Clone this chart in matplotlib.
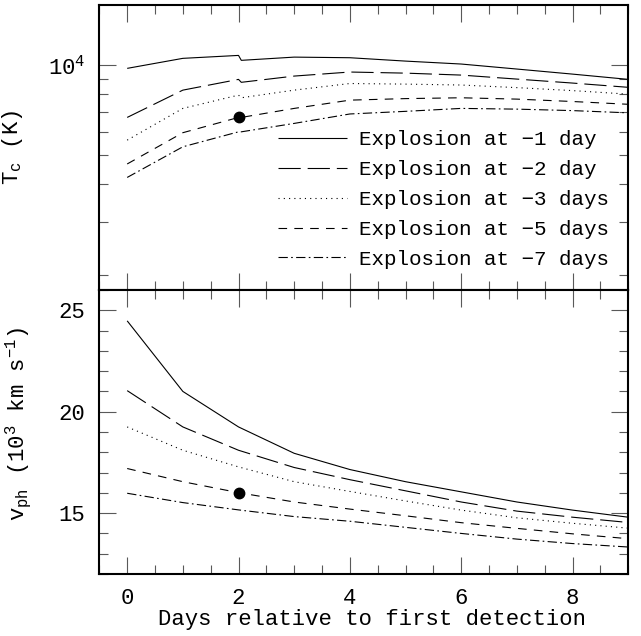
import matplotlib
matplotlib.use("Agg")
import matplotlib.pyplot as plt
from matplotlib.ticker import MultipleLocator, LogLocator, NullFormatter

# days relative to first detection (2.05 carries the step seen just after day 2)
days = [0, 1, 2, 2.05, 3, 4, 5, 6, 7, 8, 9]
days_v = [0, 1, 2, 3, 4, 5, 6, 7, 8, 9]

labels = ["Explosion at \u22121 day", "Explosion at \u22122 day",
          "Explosion at \u22123 days", "Explosion at \u22125 days",
          "Explosion at \u22127 days"]

# colour temperature (K)
tc_1 = [9750, 10530, 10770, 10370, 10630, 10580, 10310, 10080, 9700, 9330, 8960]
tc_2 = [6690, 8250, 8960, 8760, 9190, 9480, 9400, 9260, 8980, 8710, 8430]
tc_3 = [5620, 7170, 7940, 7780, 8250, 8680, 8640, 8580, 8410, 8220, 8000]
tc_5 = [4680, 5950, 6690, 6690, 7170, 7640, 7730, 7780, 7700, 7560, 7400]
tc_7 = [4220, 5340, 5990, 5990, 6390, 6870, 7010, 7170, 7130, 7050, 6930]

# photospheric velocity (10^3 km/s)
vph_1 = [24.48, 21.0, 19.25, 17.95, 17.15, 16.55, 16.05, 15.55, 15.15, 14.8]
vph_2 = [21.04, 19.25, 18.1, 17.25, 16.65, 16.1, 15.55, 15.1, 14.8, 14.54]
vph_3 = [19.25, 18.1, 17.28, 16.55, 16.07, 15.6, 15.15, 14.77, 14.5, 14.26]
vph_5 = [17.2, 16.55, 16.01, 15.55, 15.2, 14.87, 14.53, 14.25, 13.98, 13.74]
vph_7 = [15.98, 15.52, 15.16, 14.83, 14.6, 14.3, 14.0, 13.72, 13.5, 13.33]

obs_day = [2]
obs_tc = [6690]
obs_vph = [16.0]

plt.rcParams.update({'font.family': 'Liberation Mono', 'font.size': 16,
                     'mathtext.fontset': 'custom',
                     'mathtext.rm': 'Liberation Mono',
                     'mathtext.it': 'Liberation Mono:italic',
                     'lines.scale_dashes': False})

styles = [(0, ()), (0, (16, 5)), (0, (0.8, 3)), (0, (6.2, 5.2)),
          (0, (6.7, 2.4, 1.2, 2.4))]

fig = plt.figure(figsize=(6.41, 6.36), dpi=100)
ax1 = fig.add_axes([0.155, 0.544, 0.825, 0.448])
ax2 = fig.add_axes([0.155, 0.0975, 0.825, 0.4465], sharex=ax1)

for y, lab, ls in zip([tc_1, tc_2, tc_3, tc_5, tc_7], labels, styles):
    ax1.plot(days, y, color='black', lw=0.8, linestyle=ls, label=lab)
ax1.plot(obs_day, obs_tc, 'o', color='black', ms=7.5)

for y, ls in zip([vph_1, vph_2, vph_3, vph_5, vph_7], styles):
    ax2.plot(days_v, y, color='black', lw=0.8, linestyle=ls)
ax2.plot(obs_day, obs_vph, 'o', color='black', ms=7.5)

ax1.set_yscale('log')
ax1.set_ylim(10**3.25, 10**4.2)
ax1.yaxis.set_major_locator(LogLocator(base=10))
ax1.yaxis.set_minor_locator(LogLocator(base=10, subs=range(2, 10)))
ax1.yaxis.set_minor_formatter(NullFormatter())
ax1.set_ylabel(r'$\mathrm{T_c}$ (K)')
ax1.yaxis.set_label_coords(-0.141, 0.5)

ax2.set_xlim(-0.5, 9)
ax2.set_ylim(12, 26)
ax2.xaxis.set_major_locator(MultipleLocator(2))
ax2.xaxis.set_minor_locator(MultipleLocator(0.5))
ax2.yaxis.set_major_locator(MultipleLocator(5))
ax2.yaxis.set_minor_locator(MultipleLocator(1))
ax2.set_xlabel('Days relative to first detection', labelpad=0)
ax2.xaxis.label.set_x(0.515)
ax2.set_ylabel(r'$\mathrm{v_{ph}}$ ($\mathrm{10^3}$ km s$\mathrm{^{-1}}$)')
ax2.yaxis.set_label_coords(-0.126, 0.53)

for ax in (ax1, ax2):
    ax.tick_params(which='both', direction='in', top=True, right=True,
                   width=0.8, color='0.35', pad=10)
    ax.tick_params(which='major', length=12)
    ax.tick_params(which='minor', length=6.5)
    for s in ax.spines.values():
        s.set_linewidth(1.5)
plt.setp(ax1.get_xticklabels(), visible=False)

ax1.legend(loc='lower left', bbox_to_anchor=(0.338, 0.075), frameon=False,
           handlelength=3.3, handletextpad=0.6, labelspacing=0.52, fontsize=15,
           borderaxespad=0, borderpad=0)

fig.savefig('out.png', dpi=100)
